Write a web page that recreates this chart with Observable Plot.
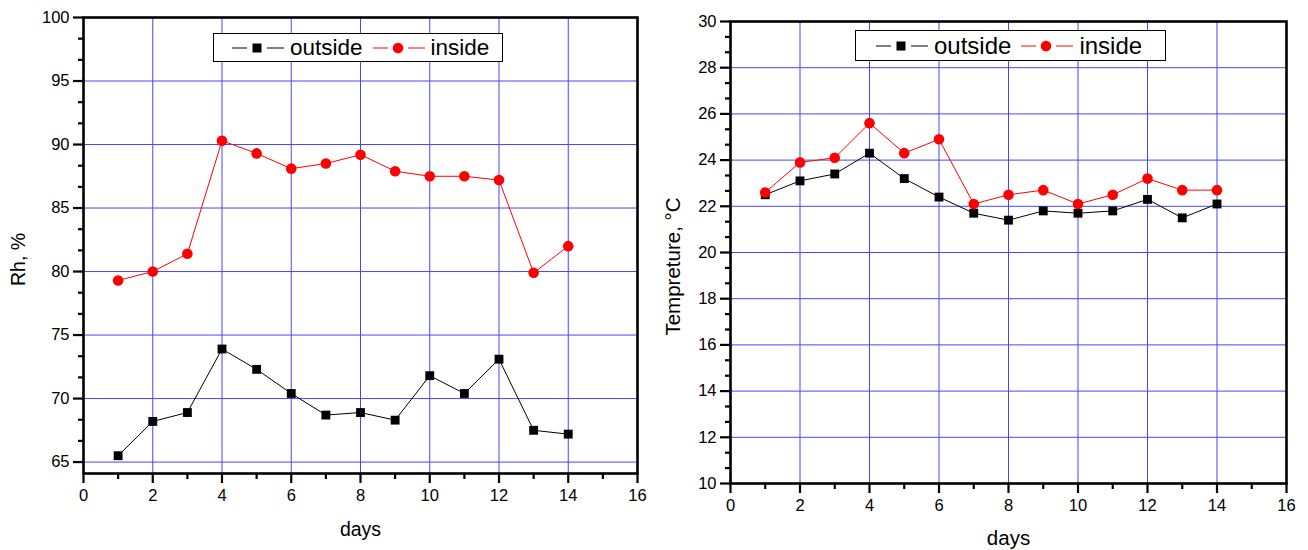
<!DOCTYPE html>
<html>
<head>
<meta charset="utf-8">
<script src="https://cdn.jsdelivr.net/npm/d3@7"></script>
<script src="https://cdn.jsdelivr.net/npm/@observablehq/plot@0.6"></script>
<style>
  html, body { margin: 0; padding: 0; background: #fff; }
  #wrap { display: flex; width: 1308px; height: 550px; font-family: "Liberation Sans", Arial, sans-serif; }
  .panel { position: relative; width: 654px; height: 550px; }
  .legend { position: absolute; box-sizing: border-box; border: 1.5px solid #000; background: #fff;
            display: flex; align-items: center; gap: 4px; color: #000; }
  .legend svg { display: block; }
</style>
</head>
<body>
<div id="wrap"></div>
<script>
// ---------- data ----------
const days = [1, 2, 3, 4, 5, 6, 7, 8, 9, 10, 11, 12, 13, 14];
const rhOutside = [65.5, 68.2, 68.9, 73.9, 72.3, 70.4, 68.7, 68.9, 68.3, 71.8, 70.4, 73.1, 67.5, 67.2];
const rhInside  = [79.3, 80.0, 81.4, 90.3, 89.3, 88.1, 88.5, 89.2, 87.9, 87.5, 87.5, 87.2, 79.9, 82.0];
const tOutside  = [22.5, 23.1, 23.4, 24.3, 23.2, 22.4, 21.7, 21.4, 21.8, 21.7, 21.8, 22.3, 21.5, 22.1];
const tInside   = [22.6, 23.9, 24.1, 25.6, 24.3, 24.9, 22.1, 22.5, 22.7, 22.1, 22.5, 23.2, 22.7, 22.7];
const seriesNames = ["outside", "inside"];

// ---------- ticks ----------
const xTicks = [0, 2, 4, 6, 8, 10, 12, 14, 16];
const xMinor = [1, 3, 5, 7, 9, 11, 13, 15];
const rhTicks = [65, 70, 75, 80, 85, 90, 95, 100];
const tTicks = [10, 12, 14, 16, 18, 20, 22, 24, 26, 28, 30];

const FONT = "'Liberation Sans', Arial, sans-serif";
const GRID = "#4646ff";
const W = 654, H = 550;

function panel({ outside, inside, yDomain, yTicks, yStep, yLabel, mLeft, mRight, mTop, mBottom,
                 yLabelDx, xLabelDy, tickFont, labelFont, legend }) {
  const outRows = days.map((d, i) => ({ day: d, v: outside[i] }));
  const inRows = days.map((d, i) => ({ day: d, v: inside[i] }));
  const yMinor = yTicks.flatMap(t => [t + yStep / 3, t + 2 * yStep / 3])
                       .filter(t => t > yDomain[0] && t < yDomain[1]);
  const fw = W - mLeft - mRight, fh = H - mTop - mBottom;
  const tickStyle = { stroke: "#000", strokeWidth: 2.2 };
  const svg = Plot.plot({
    width: W, height: H,
    marginLeft: mLeft, marginRight: mRight, marginTop: mTop, marginBottom: mBottom,
    style: { fontFamily: FONT, color: "#000", background: "#fff" },
    x: { domain: [0, 16] },
    y: { domain: yDomain },
    marks: [
      Plot.gridX(xTicks, { stroke: GRID, strokeOpacity: 1, strokeWidth: 1 }),
      Plot.gridY(yTicks, { stroke: GRID, strokeOpacity: 1, strokeWidth: 1 }),
      // tick labels
      Plot.axisX({ ticks: xTicks, tickSize: 0, tickPadding: 16, fontSize: tickFont, label: null }),
      Plot.axisY({ ticks: yTicks, tickSize: 0, tickPadding: 14, fontSize: tickFont, label: null }),
      // outward tick marks (major and minor), drawn as line elements
      Plot.tickX(xTicks, { x: d => d, insetTop: fh, insetBottom: -10, ...tickStyle }),
      Plot.tickX(xMinor, { x: d => d, insetTop: fh, insetBottom: -6, ...tickStyle }),
      Plot.tickY(yTicks, { y: d => d, insetLeft: 0, insetRight: fw + 10, ...tickStyle }),
      Plot.tickY(yMinor, { y: d => d, insetLeft: 0, insetRight: fw + 5, ...tickStyle }),
      Plot.frame({ stroke: "#000", strokeWidth: 2.6 }),
      Plot.line(outRows, { x: "day", y: "v", stroke: "#000", strokeWidth: 1 }),
      Plot.line(inRows, { x: "day", y: "v", stroke: "#ff0000", strokeWidth: 1 }),
      Plot.dot(outRows, { x: "day", y: "v", symbol: "square", r: 5, fill: "#000" }),
      Plot.dot(inRows, { x: "day", y: "v", symbol: "circle", r: 5.3, fill: "#ff0000" }),
      Plot.text(["days"], { frameAnchor: "bottom", dy: xLabelDy, lineAnchor: "middle", fontSize: labelFont, fill: "#000" }),
      Plot.text([yLabel], { frameAnchor: "left", dx: yLabelDx, dy: 14, rotate: -90, lineAnchor: "middle", textAnchor: "middle", fontSize: labelFont, fill: "#000" })
    ]
  });
  const div = document.createElement("div");
  div.className = "panel";
  div.appendChild(svg);

  const lg = document.createElement("div");
  lg.className = "legend";
  Object.assign(lg.style, { left: legend.left + "px", top: legend.top + "px", width: legend.width + "px",
                            height: legend.height + "px", fontSize: legend.font + "px", paddingLeft: legend.pad + "px" });
  const sym = (color, shape) => {
    const s = d3.create("svg").attr("width", 56).attr("height", 20);
    s.append("line").attr("x1", 2).attr("x2", 17).attr("y1", 10).attr("y2", 10).attr("stroke", color).attr("stroke-width", 1);
    s.append("line").attr("x1", 37).attr("x2", 54).attr("y1", 10).attr("y2", 10).attr("stroke", color).attr("stroke-width", 1);
    if (shape === "square") s.append("rect").attr("x", 22.5).attr("y", 5.5).attr("width", 9).attr("height", 9).attr("fill", color);
    else s.append("circle").attr("cx", 27).attr("cy", 10).attr("r", 5.3).attr("fill", color);
    return s.node();
  };
  const styles = [["#000", "square"], ["#ff0000", "circle"]];
  seriesNames.forEach((name, i) => {
    lg.appendChild(sym(styles[i][0], styles[i][1]));
    const t = document.createElement("span");
    t.textContent = name;
    t.style.marginRight = "4px";
    lg.appendChild(t);
  });
  div.appendChild(lg);
  return div;
}

const wrap = document.getElementById("wrap");
wrap.appendChild(panel({
  outside: rhOutside, inside: rhInside, yDomain: [64.1, 100], yTicks: rhTicks, yStep: 5,
  yLabel: "Rh, %", mLeft: 83, mRight: 17, mTop: 17, mBottom: 77,
  yLabelDx: -65, xLabelDy: 56, tickFont: 16.5, labelFont: 19.5,
  legend: { left: 213, top: 33, width: 290, height: 29, font: 22.5, pad: 16 }
}));
wrap.appendChild(panel({
  outside: tOutside, inside: tInside, yDomain: [10, 30], yTicks: tTicks, yStep: 2,
  yLabel: "Tempreture, °C", mLeft: 76, mRight: 22, mTop: 21, mBottom: 67,
  yLabelDx: -57, xLabelDy: 55, tickFont: 16.5, labelFont: 20.5,
  legend: { left: 201, top: 30, width: 311, height: 31, font: 24, pad: 18 }
}));
</script>
</body>
</html>
